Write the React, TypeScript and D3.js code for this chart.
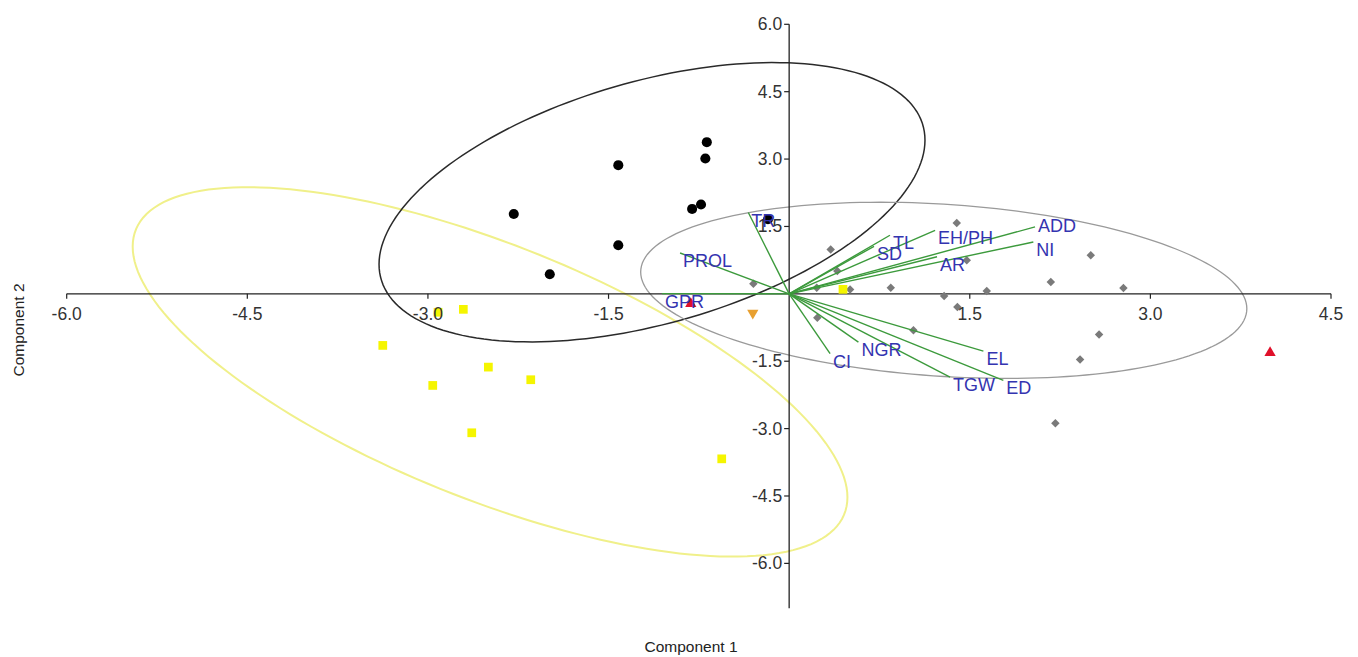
import React from "react";
import * as d3 from "d3";

// PCA biplot, Component 1 vs Component 2

const xTicks = [-6.0, -4.5, -3.0, -1.5, 1.5, 3.0, 4.5];
const yTicks = [6.0, 4.5, 3.0, 1.5, -1.5, -3.0, -4.5, -6.0];

// groups of scores [x, y]
const blackPts = [
  [-0.684, 3.376], [-0.696, 3.013], [-1.419, 2.864], [-2.287, 1.778],
  [-0.806, 1.89], [-0.732, 1.988], [-1.419, 1.081], [-1.988, 0.435],
  [-0.176, 1.66],
];
const yellowPts = [
  [-2.706, -0.345], [-3.375, -1.148], [-2.498, -1.631], [-2.146, -1.912],
  [-2.96, -2.039], [-2.636, -3.093], [-0.56, -3.673], [-2.916, -0.41],
  [0.447, 0.1],
];
const grayPts = [
  [2.505, 0.858], [2.173, 0.263], [2.776, 0.129], [2.574, -0.903],
  [2.416, -1.46], [2.211, -2.879], [1.392, 1.578], [0.345, 0.985],
  [0.4, 0.508], [1.475, 0.747], [-0.297, 0.227], [0.844, 0.138],
  [1.287, -0.049], [1.641, 0.062], [1.397, -0.294], [0.234, -0.53],
  [1.032, -0.813], [0.229, 0.138], [0.506, 0.094],
];
const redPts = [[3.994, -1.311], [-0.817, -0.219]];
const orangePts = [[-0.302, -0.428]];

// loadings (vector end points)
const vecNames = ["TR", "PROL", "GPR", "TL", "SD", "EH/PH", "AR", "ADD", "NI", "EL", "ED", "TGW", "NGR", "CI"];
const vecX = [-0.339, -0.906, -1.056, 0.837, 0.705, 1.212, 1.228, 2.042, 2.028, 1.613, 1.779, 1.336, 0.575, 0.34];
const vecY = [1.81, 0.909, 0.004, 1.304, 1.059, 1.415, 0.825, 1.489, 1.154, -1.275, -1.928, -1.854, -1.074, -1.333];

// 95% ellipses: center, spread and correlation in data units
const ellipseNames = ["yellow", "black", "gray"];
const ellCx = [-2.484, -1.139, 1.284];
const ellCy = [-1.738, 2.039, 0.078];
const ellSx = [2.968, 2.267, 2.517];
const ellSy = [4.112, 3.109, 1.961];
const ellR = [-0.6786, 0.4445, -0.208];
const ellColor = ["#f0f08a", "#2a2a2a", "#9a9a9a"];
const ellWidth = [2, 1.5, 1.3];

const W = 1358;
const H = 657;
const FONT = "'Liberation Sans', Arial, sans-serif";
// label pushed up to clear its neighbour
const labelNudge: Record<string, number> = { ADD: -9 };

export default function App() {
  const x = d3.scaleLinear().domain([-6, 4.5]).range([66.7, 1331]);
  const y = d3.scaleLinear().domain([6, -7]).range([24.3, 608.3]);
  const x0 = x(0);
  const y0 = y(0);

  const line = d3
    .line<[number, number]>()
    .x((d) => x(d[0]))
    .y((d) => y(d[1]))
    .curve(d3.curveLinearClosed);

  const ellipsePath = (i: number) => {
    const q = Math.sqrt(1 - ellR[i] * ellR[i]);
    const pts: [number, number][] = d3.range(0, 360, 2).map((deg) => {
      const t = (deg * Math.PI) / 180;
      return [
        ellCx[i] + ellSx[i] * Math.cos(t),
        ellCy[i] + ellSy[i] * (ellR[i] * Math.cos(t) + q * Math.sin(t)),
      ];
    });
    return line(pts) || "";
  };

  const circle = d3.symbol().type(d3.symbolCircle).size(80)() || "";
  const square = d3.symbol().type(d3.symbolSquare).size(76)() || "";
  const diamond = d3.symbol().type(d3.symbolSquare).size(36)() || "";
  const tri = d3.symbol().type(d3.symbolTriangle).size(55)() || "";

  return (
    <svg
      width={W}
      height={H}
      style={{ position: "absolute", left: 0, top: 0, background: "#fff" }}
      fontFamily={FONT}
    >
      {/* ellipses */}
      {ellipseNames.map((n, i) => (
        <path key={n} d={ellipsePath(i)} fill="none" stroke={ellColor[i]} strokeWidth={ellWidth[i]} />
      ))}

      {/* axes */}
      <line x1={x(-6)} x2={x(4.5)} y1={y0} y2={y0} stroke="#222" strokeWidth={1.3} />
      <line x1={x0} x2={x0} y1={y(6)} y2={y(-7)} stroke="#222" strokeWidth={1.3} />
      {xTicks.map((t) => (
        <line key={"xt" + t} x1={x(t)} x2={x(t)} y1={y0} y2={y0 + 5} stroke="#222" strokeWidth={1.2} />
      ))}
      {yTicks.map((t) => (
        <line key={"yt" + t} x1={x0 - 5} x2={x0} y1={y(t)} y2={y(t)} stroke="#222" strokeWidth={1.2} />
      ))}

      {/* scores */}
      {grayPts.map((p, i) => (
        <path key={"g" + i} d={diamond} transform={`translate(${x(p[0])},${y(p[1])}) rotate(45)`} fill="#7a7a7a" />
      ))}
      {yellowPts.map((p, i) => (
        <path key={"y" + i} d={square} transform={`translate(${x(p[0])},${y(p[1])})`} fill="#f5f500" />
      ))}
      {blackPts.map((p, i) => (
        <path key={"b" + i} d={circle} transform={`translate(${x(p[0])},${y(p[1])})`} fill="#000" />
      ))}
      {redPts.map((p, i) => (
        <path key={"r" + i} d={tri} transform={`translate(${x(p[0])},${y(p[1])})`} fill="#e0102a" />
      ))}
      {orangePts.map((p, i) => (
        <path key={"o" + i} d={tri} transform={`translate(${x(p[0])},${y(p[1])}) rotate(180)`} fill="#e8a030" />
      ))}

      {/* loadings */}
      {vecNames.map((n, i) => (
        <line key={"v" + n} x1={x0} y1={y0} x2={x(vecX[i])} y2={y(vecY[i])} stroke="#3c9a3c" strokeWidth={1.4} />
      ))}
      {vecNames.map((n, i) => (
        <text
          key={"vl" + n}
          x={x(vecX[i]) + 3}
          y={y(vecY[i]) + 14 + (labelNudge[n] || 0)}
          fontSize={18}
          fill="#3434b0"
        >
          {n}
        </text>
      ))}

      {/* tick labels */}
      {xTicks.map((t) => (
        <text key={"xl" + t} x={x(t)} y={y0 + 26} fontSize={17.5} fill="#333" textAnchor="middle">
          {t.toFixed(1)}
        </text>
      ))}
      {yTicks.map((t) => (
        <text key={"yl" + t} x={x0 - 7} y={y(t) + 6} fontSize={17.5} fill="#333" textAnchor="end">
          {t.toFixed(1)}
        </text>
      ))}

      {/* axis titles */}
      <text x={691} y={652} fontSize={15.5} fill="#222" textAnchor="middle">
        Component 1
      </text>
      <text transform="translate(24,330) rotate(-90)" fontSize={15.5} fill="#222" textAnchor="middle">
        Component 2
      </text>
    </svg>
  );
}
